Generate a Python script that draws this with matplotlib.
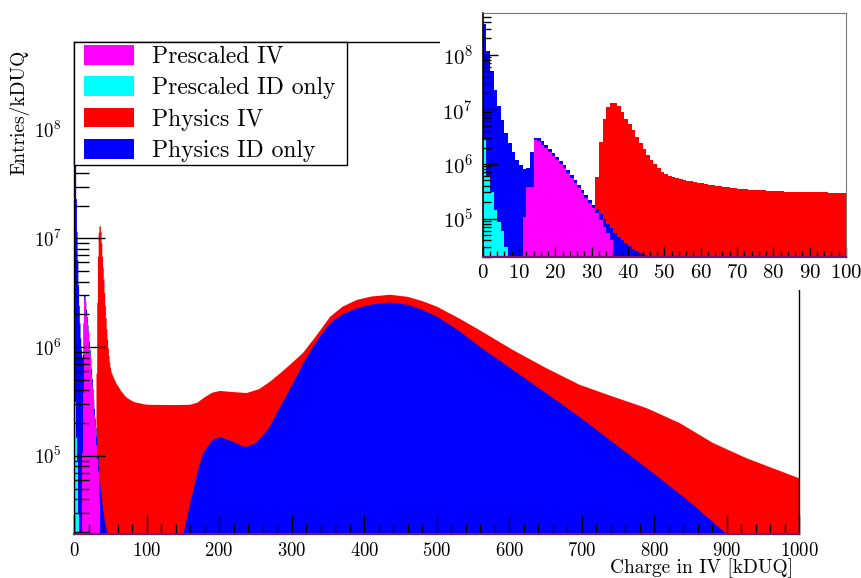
import numpy as np
import matplotlib
matplotlib.use("Agg")
import matplotlib.pyplot as plt
from matplotlib.patches import Patch, Rectangle
from matplotlib.ticker import MultipleLocator, LogLocator, NullFormatter

plt.rcParams["font.family"] = "cmr10"
plt.rcParams["mathtext.fontset"] = "cm"
plt.rcParams["axes.formatter.use_mathtext"] = True
plt.rcParams["axes.unicode_minus"] = False

# entries per 1 kDUQ bin, fine part (bins 0..99), each list starts at its first filled bin
prescaled_id_start = 0
prescaled_id = [2.74e6, 5.8e5, 3.1e5, 1.45e5, 8.8e4, 5.8e4, 3.0e4]

prescaled_iv_start = 11
prescaled_iv = [1.07e5, 3.8e5, 3.8e5, 2.74e6, 2.67e6, 2.22e6, 1.93e6, 1.68e6, 1.40e6,
                1.18e6, 1.0e6, 8.3e5, 6.7e5, 5.5e5, 4.4e5, 3.6e5, 2.9e5, 2.35e5,
                1.9e5, 1.54e5, 1.25e5, 9.4e4, 7.1e4, 5.4e4, 4.1e4]

physics_id_start = 0
physics_id = [3.7e8, 1.18e8, 5.0e7, 2.3e7, 1.15e7, 6.3e6, 3.7e6, 2.4e6, 1.65e6, 1.2e6,
              9.5e5, 8.0e5, 8.5e5, 1.66e6, 3.0e6, 3.0e6, 2.6e6, 2.2e6, 1.9e6, 1.6e6,
              1.35e6, 1.12e6, 9.4e5, 7.8e5, 6.3e5, 5.1e5, 4.1e5, 3.3e5, 2.7e5, 2.2e5,
              1.8e5, 1.5e5, 1.2e5, 1.0e5, 8.0e4, 6.6e4, 5.4e4, 4.6e4, 4.0e4, 3.5e4,
              3.1e4, 2.8e4, 2.5e4, 2.3e4, 2.15e4, 2.05e4, 1.95e4]

physics_iv_start = 31
physics_iv = [5.7e5, 2.55e6, 6.8e6, 1.12e7, 1.29e7, 1.29e7, 1.15e7, 9.0e6, 6.8e6, 5.4e6,
              4.2e6, 3.15e6, 2.4e6, 1.85e6, 1.46e6, 1.18e6, 9.8e5, 8.3e5, 7.2e5, 6.5e5,
              6.0e5, 5.7e5, 5.5e5, 5.3e5, 5.1e5, 4.95e5, 4.8e5, 4.6e5, 4.5e5, 4.4e5,
              4.3e5, 4.2e5, 4.1e5, 4.0e5, 3.9e5, 3.85e5, 3.75e5, 3.7e5, 3.6e5, 3.55e5,
              3.5e5, 3.45e5, 3.4e5, 3.37e5, 3.33e5, 3.3e5, 3.27e5, 3.25e5, 3.2e5,
              3.18e5, 3.16e5, 3.14e5, 3.12e5, 3.1e5, 3.09e5, 3.08e5, 3.07e5, 3.06e5, 3.05e5,
              3.04e5, 3.03e5, 3.02e5, 3.01e5, 3.0e5, 2.99e5, 2.98e5, 2.97e5, 2.97e5, 2.96e5]

# coarse read-off beyond 100 kDUQ
physics_iv_charge = [100, 120, 140, 160, 170, 180, 190, 201, 215, 238, 255, 270, 285, 300,
                     316, 335, 353, 370, 390, 410, 436, 460, 480, 500, 530, 560, 605,
                     651, 697, 743, 789, 835, 881, 927, 1000]
physics_iv_tail = [2.95e5, 2.94e5, 2.93e5, 2.95e5, 3.08e5, 3.45e5, 3.8e5, 3.95e5, 3.88e5,
                   3.78e5, 4.1e5, 4.8e5, 5.8e5, 7.1e5, 8.9e5, 1.3e6, 1.9e6, 2.35e6,
                   2.72e6, 2.92e6, 3.03e6, 2.9e6, 2.65e6, 2.36e6, 1.85e6, 1.42e6, 9.4e5,
                   6.4e5, 4.5e5, 3.5e5, 2.75e5, 2.0e5, 1.31e5, 9.5e4, 6.2e4]

physics_id_charge = [145, 150, 160, 170, 178, 190, 201, 215, 236, 250, 260, 270, 280, 293,
                     305, 316, 335, 353, 370, 390, 410, 436, 460, 480, 500, 530, 560, 600,
                     650, 700, 750, 800, 850, 900]
physics_id_tail = [0, 1.8e4, 3.6e4, 7.0e4, 1.06e5, 1.38e5, 1.49e5, 1.38e5, 1.2e5, 1.3e5,
                   1.52e5, 1.86e5, 2.5e5, 3.6e5, 5.1e5, 7.1e5, 1.15e6, 1.66e6, 2.0e6,
                   2.28e6, 2.47e6, 2.57e6, 2.45e6, 2.2e6, 1.91e6, 1.42e6, 1.0e6, 6.5e5,
                   3.8e5, 2.2e5, 1.22e5, 6.8e4, 3.7e4, 1.9e4]

labels = ["Prescaled IV", "Prescaled ID only", "Physics IV", "Physics ID only"]
colors = {"Prescaled IV": "#ff00ff", "Prescaled ID only": "#00ffff",
          "Physics IV": "#ff0000", "Physics ID only": "#0000ff"}

FLOOR = 1.0
NBINS = 100


def fine_bins(start, vals):
    arr = np.zeros(NBINS)
    arr[start:start + len(vals)] = vals
    return arr


def step_outline(vals):
    edges = np.arange(NBINS + 1)
    xs = np.repeat(edges, 2)[1:-1]
    ys = np.repeat(vals, 2)
    return xs, ys


series = {
    "Physics IV": (fine_bins(physics_iv_start, physics_iv), physics_iv_charge, physics_iv_tail),
    "Physics ID only": (fine_bins(physics_id_start, physics_id), physics_id_charge, physics_id_tail),
    "Prescaled IV": (fine_bins(prescaled_iv_start, prescaled_iv), [], []),
    "Prescaled ID only": (fine_bins(prescaled_id_start, prescaled_id), [], []),
}
draw_order = ["Physics IV", "Physics ID only", "Prescaled IV", "Prescaled ID only"]

fig = plt.figure(figsize=(8.62, 5.78), dpi=100)

# main pad
ax = fig.add_axes([74 / 862, 44 / 578, 725.5 / 862, 492 / 578])
for name in draw_order:
    fine, cx, cy = series[name]
    xs, ys = step_outline(fine)
    xs = np.concatenate([xs, cx])
    ys = np.concatenate([ys, cy])
    ax.fill_between(xs, FLOOR, np.maximum(ys, FLOOR), color=colors[name], lw=0)

ax.set_yscale("log")
ax.set_xlim(0, 1000)
ax.set_ylim(1.91e4, 6.4e8)
ax.xaxis.set_major_locator(MultipleLocator(100))
ax.xaxis.set_minor_locator(MultipleLocator(20))
ax.yaxis.set_major_locator(LogLocator(base=10))
ax.yaxis.set_minor_locator(LogLocator(base=10, subs=np.arange(2, 10)))
ax.yaxis.set_minor_formatter(NullFormatter())
ax.tick_params(axis="x", which="major", direction="in", length=14, width=1,
               labelsize=13.5, pad=6, top=False)
ax.tick_params(axis="x", which="minor", direction="in", length=7, width=1, top=False)
ax.tick_params(axis="y", which="major", direction="in", length=22, width=1,
               labelsize=13.5, pad=9, right=False)
ax.tick_params(axis="y", which="minor", direction="in", length=11, width=1, right=False)
for s in ax.spines.values():
    s.set_linewidth(1)
ax.spines["bottom"].set_color("#6e1a6e")
ax.spines["bottom"].set_linewidth(1.6)

ax.set_xlabel("Charge in IV [kDUQ]", fontsize=14, loc="right")
ax.xaxis.set_label_coords(0.991, -0.05)
ax.set_ylabel("Entries/kDUQ", fontsize=14, loc="top")
ax.yaxis.set_label_coords(-0.061, 0.984)

# legend box (ROOT style: tight rows, wider side margins)
ax.add_patch(Rectangle((0, 1 - 123 / 492), 273 / 725.5, 123 / 492, transform=ax.transAxes,
                       facecolor="white", edgecolor="black", lw=1, zorder=4.5,
                       clip_on=False))
handles = [Patch(facecolor=colors[n], edgecolor="none") for n in labels]
leg = ax.legend(handles, labels, loc="upper left", bbox_to_anchor=(10 / 725.5, 0.994),
                borderaxespad=0, fontsize=17, frameon=False, handlelength=2.1,
                handleheight=0.9, handletextpad=0.8, borderpad=0, labelspacing=0.36)
leg.set_zorder(5)

# white inset pad over the upper right corner
fig.add_artist(Rectangle((440 / 862, 1 - 290 / 578), 1 - 440 / 862, 290 / 578,
                         transform=fig.transFigure, facecolor="white",
                         edgecolor="none", zorder=1))

ax_in = fig.add_axes([482.7 / 862, 1 - 257.3 / 578, 363.3 / 862, 244.6 / 578], zorder=2)
for name in draw_order:
    fine = series[name][0]
    xs, ys = step_outline(fine)
    ax_in.fill_between(xs, FLOOR, np.maximum(ys, FLOOR), color=colors[name], lw=0)
ax_in.set_yscale("log")
ax_in.set_xlim(0, 100)
ax_in.set_ylim(1.95e4, 5.9e8)
ax_in.xaxis.set_major_locator(MultipleLocator(10))
ax_in.xaxis.set_minor_locator(MultipleLocator(2))
ax_in.yaxis.set_major_locator(LogLocator(base=10))
ax_in.yaxis.set_minor_locator(LogLocator(base=10, subs=np.arange(2, 10)))
ax_in.yaxis.set_minor_formatter(NullFormatter())
ax_in.tick_params(axis="x", which="major", direction="in", length=7, width=1,
                  labelsize=15, pad=5, top=False)
ax_in.tick_params(axis="x", which="minor", direction="in", length=4, width=1, top=False)
ax_in.tick_params(axis="y", which="major", direction="in", length=11, width=1,
                  labelsize=15, pad=7, right=False)
ax_in.tick_params(axis="y", which="minor", direction="in", length=6, width=1, right=False)
ax_in.spines["left"].set_linewidth(1.2)
ax_in.spines["bottom"].set_color("#6e1a6e")
ax_in.spines["bottom"].set_linewidth(1.6)
ax_in.spines["top"].set_color("#777777")
ax_in.spines["right"].set_color("#777777")
ax_in.spines["top"].set_linewidth(0.8)
ax_in.spines["right"].set_linewidth(0.8)

fig.savefig("out.png", dpi=100)
